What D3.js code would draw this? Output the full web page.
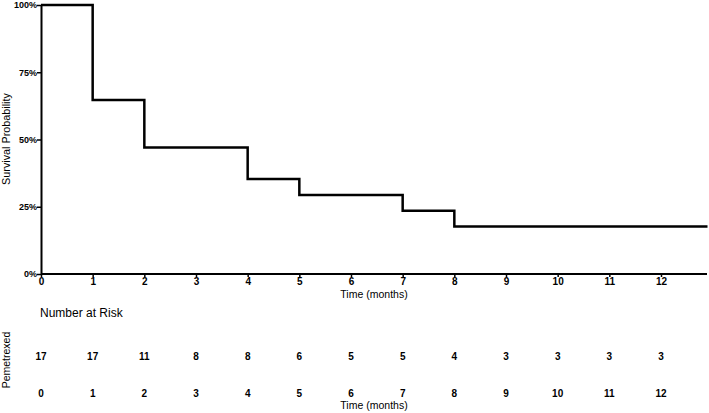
<!DOCTYPE html>
<html>
<head>
<meta charset="utf-8">
<script src="https://cdn.jsdelivr.net/npm/d3@7"></script>
<style>
body { margin: 0; background: #fff; }
text { font-family: "Liberation Sans", Arial, sans-serif; fill: #000; }
</style>
</head>
<body>
<div class="content"></div>
<script>
// KM curve: time (months) and survival
var times = [0, 1, 2, 4, 5, 7, 8];
var survival = [1, 11/17, 8/17, 6/17, 5/17, 4/17, 3/17];
var endTime = 12.9;
var monthTicks = [0,1,2,3,4,5,6,7,8,9,10,11,12];
var pctTicks = [0, 0.25, 0.5, 0.75, 1];
var atRisk = [17,17,11,8,8,6,5,5,4,3,3,3,3];
var groupName = "Pemetrexed";

var W = 709, H = 413;
var svg = d3.select(".content").append("svg")
  .attr("width", W).attr("height", H);

var x = d3.scaleLinear().domain([0, 12]).range([41, 661]);
var y = d3.scaleLinear().domain([0, 1]).range([274, 5]);

// y axis
var yAx = svg.append("g").attr("transform", "translate(41,0)")
  .call(d3.axisLeft(y).tickValues(pctTicks).tickFormat(d3.format(".0%")).tickSize(4).tickSizeOuter(0));
yAx.select(".domain").attr("stroke-width", 2);
yAx.selectAll(".tick line").attr("stroke-width", 1.5);
yAx.selectAll("text").style("font-size", "9px").style("font-weight", "bold").attr("x", -4);

// x axis
var xAx = svg.append("g").attr("transform", "translate(0,274)")
  .call(d3.axisBottom(x).tickValues(monthTicks).tickSize(3).tickSizeOuter(0));
xAx.select(".domain").attr("d", "M41,0H707").attr("stroke-width", 2);
xAx.selectAll(".tick line").attr("stroke-width", 1.5);
xAx.selectAll("text").style("font-size", "10px").style("font-weight", "bold").attr("y", 4).attr("dy", "0.71em");

svg.append("text").attr("x", 374).attr("y", 298).attr("text-anchor", "middle")
  .style("font-size", "10.5px").text("Time (months)");

svg.append("text").attr("transform", "translate(10,139) rotate(-90)")
  .attr("text-anchor", "middle").style("font-size", "10.8px").text("Survival Probability");

// step line
var pts = times.map(function(t, i) { return [t, survival[i]]; });
pts.push([endTime, survival[survival.length - 1]]);
var line = d3.line().x(function(d) { return x(d[0]); }).y(function(d) { return y(d[1]); })
  .curve(d3.curveStepAfter);
svg.append("path").datum(pts).attr("d", line)
  .attr("fill", "none").attr("stroke", "#000").attr("stroke-width", 2.5);

// number at risk table
svg.append("text").attr("x", 40).attr("y", 317).style("font-size", "12px").text("Number at Risk");

svg.append("text").attr("transform", "translate(10,360) rotate(-90)")
  .attr("text-anchor", "middle").style("font-size", "10.5px").text(groupName);

svg.selectAll(".risk").data(atRisk).enter().append("text")
  .attr("class", "risk")
  .attr("x", function(d, i) { return x(monthTicks[i]); })
  .attr("y", 360).attr("text-anchor", "middle")
  .style("font-size", "10px").style("font-weight", "bold")
  .text(function(d) { return d; });

svg.selectAll(".rtick").data(monthTicks).enter().append("text")
  .attr("class", "rtick")
  .attr("x", function(d) { return x(d); })
  .attr("y", 397).attr("text-anchor", "middle")
  .style("font-size", "10px").style("font-weight", "bold")
  .text(function(d) { return d; });

svg.append("text").attr("x", 374).attr("y", 409).attr("text-anchor", "middle")
  .style("font-size", "10.5px").text("Time (months)");
</script>
</body>
</html>
